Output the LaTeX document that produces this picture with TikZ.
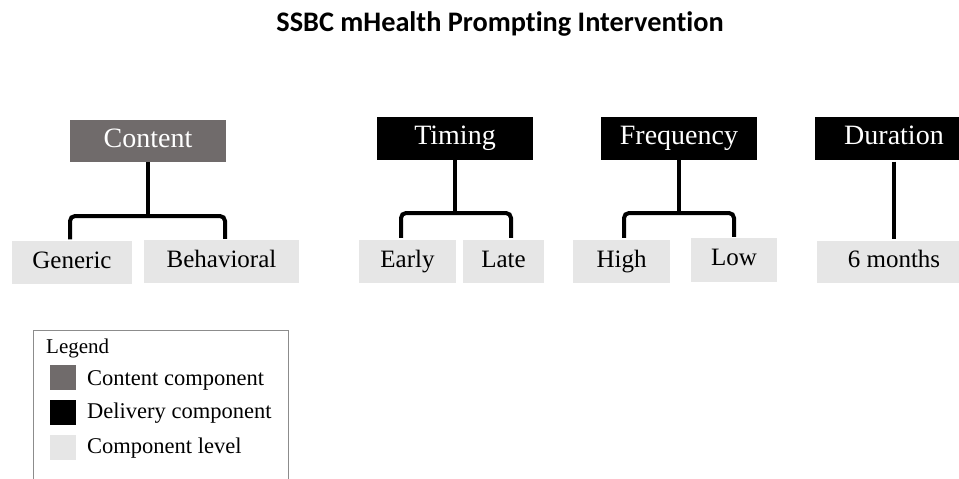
\documentclass[tikz,border=0pt]{standalone}
\usepackage{fontspec}
\setmainfont{Liberation Serif}
\newfontfamily\titlefont{Carlito}[Ligatures={NoCommon}]
\definecolor{contentgray}{RGB}{112,107,107}
\definecolor{levelgray}{RGB}{230,230,230}
\definecolor{framegray}{RGB}{140,140,140}
\tikzset{
  headbox/.style={inner sep=0pt, text=white, text height=18pt, text depth=6pt,
    font=\fontsize{28}{30}\selectfont},
  contentbox/.style={headbox, fill=contentgray},
  deliverybox/.style={headbox, fill=black},
  levelbox/.style={inner sep=0pt, fill=levelgray, text=black, text height=16.5pt, text depth=5.5pt,
    font=\fontsize{25}{27}\selectfont},
  conn/.style={line width=4pt, draw=black, rounded corners=5pt},
  swatch/.style={inner sep=0pt, minimum width=26pt, minimum height=25pt},
  legendtext/.style={inner sep=0pt, anchor=base west, font=\fontsize{22.5}{24}\selectfont},
}
\begin{document}
\begin{tikzpicture}[x=1pt,y=-1pt]
\useasboundingbox (0,0) rectangle (959,479);
\begin{scope}
\clip (0,0) rectangle (959,479);

% title
\node (title) at (500,24) {\titlefont\bfseries\fontsize{28.3}{30}\selectfont SSBC mHealth Prompting Intervention};

% component boxes
\node[contentbox, minimum width=156pt, minimum height=42pt] (content) at (148,141) {Content};
\node[deliverybox, minimum width=156pt, minimum height=43pt] (timing) at (455,138.5) {Timing};
\node[deliverybox, minimum width=156pt, minimum height=43pt] (freq) at (679,138.5) {Frequency};
\node[deliverybox, minimum width=158pt, minimum height=43pt] (dur) at (894,138.5) {Duration};

% level boxes
\node[levelbox, minimum width=120pt, minimum height=43pt] (generic) at (72,262.5) {Generic};
\node[levelbox, minimum width=155pt, minimum height=43pt] (behav) at (221.5,261.5) {Behavioral};
\node[levelbox, minimum width=97pt, minimum height=43pt] (early) at (407.5,261.5) {Early};
\node[levelbox, minimum width=81pt, minimum height=43pt] (late) at (503.5,261.5) {Late};
\node[levelbox, minimum width=97pt, minimum height=43pt] (high) at (621.5,261.5) {High};
\node[levelbox, minimum width=86pt, minimum height=44pt] (low) at (734,260) {Low};
\node[levelbox, minimum width=154pt, minimum height=42pt] (months) at (894,262) {6 months};

% connectors
\draw[conn] (content.south) -- (content.south |- 0,216);
\draw[conn] ([xshift=-2pt,yshift=1.5pt]generic.north) |- (content.south |- 0,216) -| ([xshift=3.5pt,yshift=1pt]behav.north);
\draw[conn] (timing.south) -- (timing.south |- 0,213);
\draw[conn] ([xshift=-6.5pt,yshift=2pt]early.north) |- (timing.south |- 0,213) -| ([xshift=7.5pt,yshift=2pt]late.north);
\draw[conn] (freq.south) -- (freq.south |- 0,213);
\draw[conn] ([xshift=2.5pt,yshift=2pt]high.north) |- (freq.south |- 0,213) -| ([yshift=1pt]low.north);
\draw[conn] ([yshift=-1.5pt]dur.south) -- ([yshift=2pt]months.north);

% legend frame, open at the lower edge
\coordinate (lgbl) at (33,479);
\coordinate (lgbr) at (288,479);
\draw[framegray, line width=1pt] (lgbl) -- (33,330) -- (288,330) -- (lgbr);
\node[inner sep=0pt, anchor=base west, font=\fontsize{21}{23}\selectfont] (legtitle) at (46,353) {Legend};
\node[swatch, fill=contentgray] (sw1) at (63,377.5) {};
\node[swatch, fill=black] (sw2) at (63,412.5) {};
\node[swatch, fill=levelgray] (sw3) at (63,447.5) {};
\node[legendtext] (lt1) at (87,385) {Content component};
\node[legendtext] (lt2) at (87,418) {Delivery component};
\node[legendtext] (lt3) at (87,453) {Component level};
\end{scope}
\end{tikzpicture}
\end{document}
